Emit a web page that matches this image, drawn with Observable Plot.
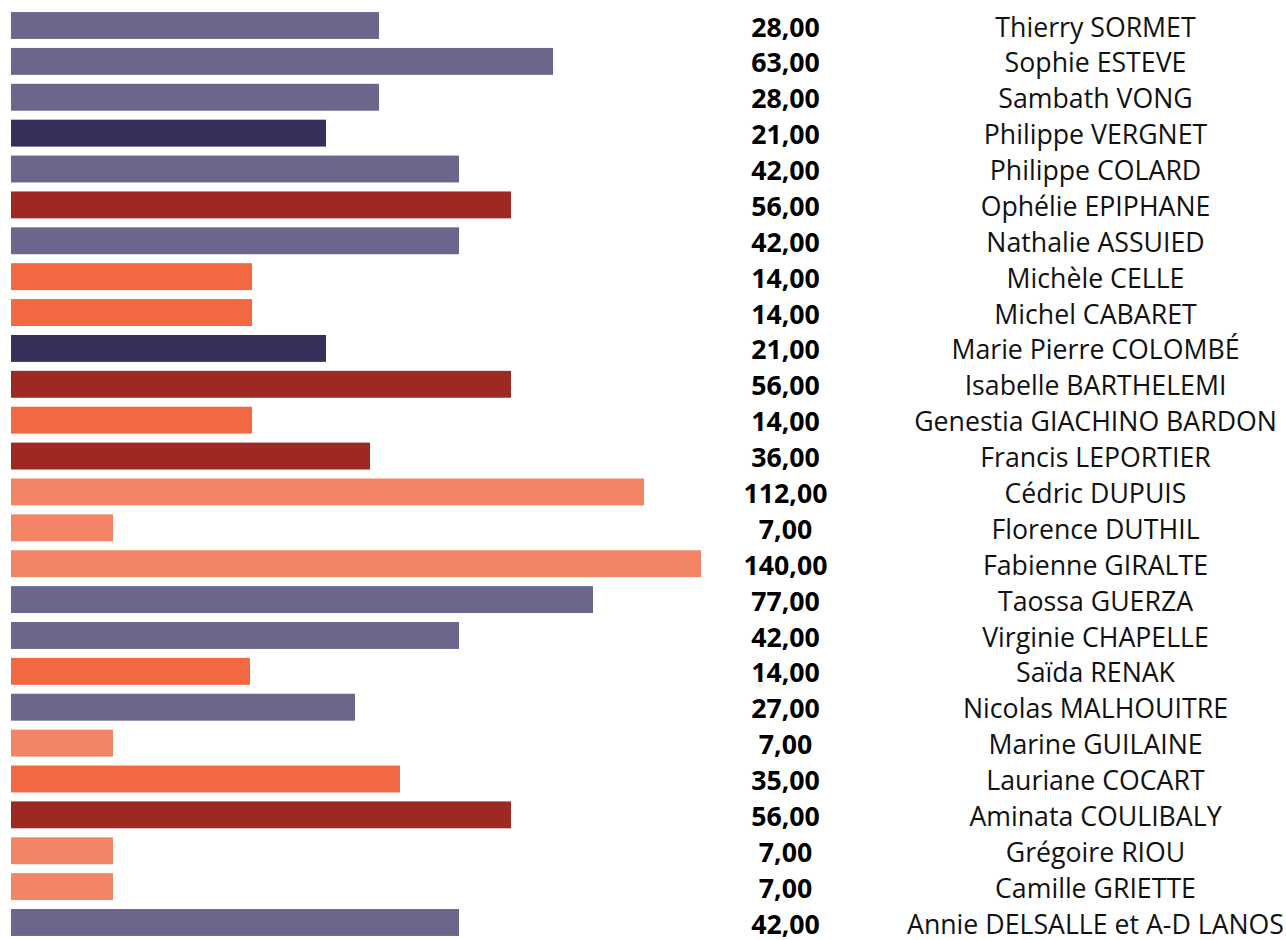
<!DOCTYPE html>
<html>
<head>
<meta charset="utf-8">
<script src="https://cdn.jsdelivr.net/npm/d3@7"></script>
<script src="https://cdn.jsdelivr.net/npm/@observablehq/plot@0.6"></script>
<style>
  html, body { margin: 0; padding: 0; background: #fff; }
  #chart svg { display: block; }
</style>
</head>
<body>
<div id="chart"></div>
<script>
const names = [
  "Thierry SORMET", "Sophie ESTEVE", "Sambath VONG", "Philippe VERGNET",
  "Philippe COLARD", "Ophélie EPIPHANE", "Nathalie ASSUIED", "Michèle CELLE",
  "Michel CABARET", "Marie Pierre COLOMBÉ", "Isabelle BARTHELEMI",
  "Genestia GIACHINO BARDON", "Francis LEPORTIER", "Cédric DUPUIS",
  "Florence DUTHIL", "Fabienne GIRALTE", "Taossa GUERZA", "Virginie CHAPELLE",
  "Saïda RENAK", "Nicolas MALHOUITRE", "Marine GUILAINE", "Lauriane COCART",
  "Aminata COULIBALY", "Grégoire RIOU", "Camille GRIETTE",
  "Annie DELSALLE et A-D LANOS"
];
// displayed values
const values = [28, 63, 28, 21, 42, 56, 42, 14, 14, 21, 56, 14, 36, 112, 7, 140, 77, 42, 14, 27, 7, 35, 56, 7, 7, 42];
// bar lengths as drawn in the reference (arbitrary units)
const barLengths = [368, 542, 368, 315, 448, 500, 448, 241, 241, 315, 500, 241, 359, 633, 102, 690, 582, 448, 239, 344, 102, 389, 500, 102, 102, 448];
// colour group of each bar
const groups = ["A", "A", "A", "B", "A", "C", "A", "D", "D", "B", "C", "D", "C", "E", "E", "E", "A", "A", "D", "A", "E", "D", "C", "E", "E", "A"];
const groupNames = ["A", "B", "C", "D", "E"];
const groupColors = ["#6d668c", "#36305a", "#9e2922", "#f26841", "#f48466"];

const data = names.map((n, i) => ({name: n, value: values[i], bar: barLengths[i], group: groups[i]}));
const fmt = v => v.toFixed(2).replace(".", ",");

const chart = Plot.plot({
  width: 1286,
  height: 940,
  marginLeft: 0, marginRight: 0, marginTop: 0, marginBottom: 0,
  style: {fontFamily: "'Open Sans', sans-serif", background: "#fff"},
  x: {domain: [0, 690], range: [11, 701], axis: null},
  y: {domain: names, range: [7.56, 940.44], paddingInner: 0.25, paddingOuter: 0.125, round: false, axis: null},
  color: {domain: groupNames, range: groupColors},
  marks: [
    Plot.barX(data, {x: "bar", y: "name", fill: "group"}),
    Plot.text(data, {
      y: "name", text: d => fmt(d.value), frameAnchor: "left", dx: 785, dy: 2,
      textAnchor: "middle", fontSize: 26.7, fontWeight: "bold", fill: "#000"
    }),
    Plot.text(data, {
      y: "name", text: "name", frameAnchor: "left", dx: 1095, dy: 2,
      textAnchor: "middle", fontSize: 26.7, fill: "#111"
    })
  ]
});
document.getElementById("chart").appendChild(chart);
</script>
</body>
</html>
